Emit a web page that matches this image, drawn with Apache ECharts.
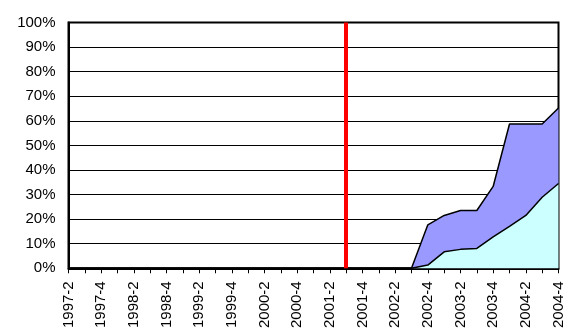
<!DOCTYPE html>
<html>
<head>
<meta charset="utf-8">
<script src="https://cdn.jsdelivr.net/npm/echarts@6/dist/echarts.min.js"></script>
<style>
  html, body { margin: 0; padding: 0; background: #fff; }
  #chart { width: 566px; height: 331px; }
</style>
</head>
<body>
<div id="chart"></div>
<script>
// Quarterly categories, 1997-2 through 2004-4
const quarters = [
  '1997-2','1997-3','1997-4',
  '1998-1','1998-2','1998-3','1998-4',
  '1999-1','1999-2','1999-3','1999-4',
  '2000-1','2000-2','2000-3','2000-4',
  '2001-1','2001-2','2001-3','2001-4',
  '2002-1','2002-2','2002-3','2002-4',
  '2003-1','2003-2','2003-3','2003-4',
  '2004-1','2004-2','2004-3','2004-4'
];

// Lower (cyan) band, percent
const lowerBand = [
  0,0,0, 0,0,0,0, 0,0,0,0, 0,0,0,0, 0,0,0,0, 0,0,
  0, 1.3, 6.7, 7.7, 8.1, 12.8, 17.1, 21.5, 28.9, 34.5
];

// Upper (blue) band, stacked on top of the lower one, percent
const upperBand = [
  0,0,0, 0,0,0,0, 0,0,0,0, 0,0,0,0, 0,0,0,0, 0,0,
  0, 16.4, 14.8, 15.8, 15.4, 20.5, 41.6, 37.2, 29.8, 30.7
];

// Vertical marker position
const markerQuarter = '2001-3';

// Y-axis tick values
const yTicks = [0,10,20,30,40,50,60,70,80,90,100];

const chart = echarts.init(document.getElementById('chart'), null, { renderer: 'canvas' });

const font = 'Liberation Sans, Arial, sans-serif';

chart.setOption({
  animation: false,
  grid: {
    left: 68.5, right: 2.7, top: 22.5, bottom: 61, containLabel: false,
    show: true, borderColor: '#000', borderWidth: 2, backgroundColor: 'transparent'
  },
  xAxis: {
    type: 'category',
    data: quarters,
    boundaryGap: false,
    axisLine: { lineStyle: { color: '#000', width: 2 } },
    axisTick: { show: true, interval: 0, length: 5, lineStyle: { color: '#000', width: 1 } },
    axisLabel: {
      interval: 1,
      rotate: 90,
      margin: 13,
      color: '#000',
      fontFamily: font,
      fontSize: 15
    },
    splitLine: { show: false }
  },
  yAxis: {
    type: 'value',
    min: yTicks[0],
    max: yTicks[yTicks.length - 1],
    interval: 10,
    axisLine: { show: true, lineStyle: { color: '#000', width: 2 } },
    axisTick: { show: false },
    axisLabel: {
      formatter: v => v + '%',
      margin: 13,
      color: '#000',
      fontFamily: font,
      fontSize: 15
    },
    splitLine: { show: true, lineStyle: { color: '#000', width: 1 } }
  },
  series: [
    {
      name: 'lower',
      type: 'line',
      stack: 'share',
      data: lowerBand,
      symbol: 'none',
      lineStyle: { color: '#000', width: 1.5 },
      areaStyle: { color: '#CCFFFF', opacity: 1 },
      z: 3
    },
    {
      name: 'upper',
      type: 'line',
      stack: 'share',
      data: upperBand,
      symbol: 'none',
      lineStyle: { color: '#000', width: 1.5 },
      areaStyle: { color: '#9999FF', opacity: 1 },
      z: 2,
      markLine: {
        silent: true,
        symbol: 'none',
        label: { show: false },
        lineStyle: { color: '#FF0000', width: 4, type: 'solid' },
        data: [{ xAxis: markerQuarter }]
      }
    }
  ]
});
</script>
</body>
</html>
